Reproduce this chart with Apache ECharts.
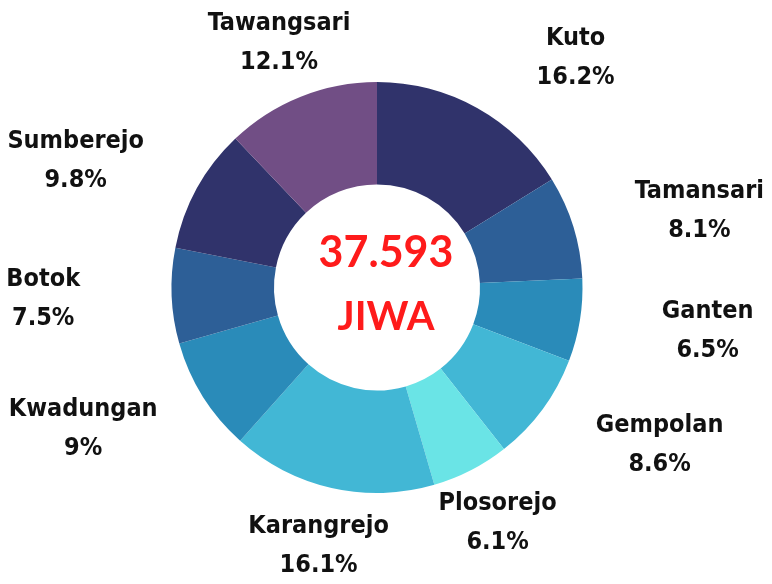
<!DOCTYPE html>
<html>
<head>
<meta charset="utf-8">
<script src="https://cdn.jsdelivr.net/npm/echarts@6/dist/echarts.min.js"></script>
<style>
html,body{margin:0;padding:0;background:#fff;}
#chart{width:772px;height:584px;}
</style>
</head>
<body>
<div id="chart"></div>
<script>
const categories = ['Kuto','Tamansari','Ganten','Gempolan','Plosorejo','Karangrejo','Kwadungan','Botok','Sumberejo','Tawangsari'];
const percents = [16.2, 8.1, 6.5, 8.6, 6.1, 16.1, 9, 7.5, 9.8, 12.1];
const sliceColors = ['#30336b','#2d5f97','#2a8bb9','#42b7d5','#6ae4e6','#42b7d5','#2a8bb9','#2d5f97','#30336b','#714e85'];
const centerLine1 = '37.593';
const centerLine2 = 'JIWA';

const CX = 377, CY = 287.5, R_OUT = 205.5, R_IN = 103;
const LABEL_R = 264, SIDE_SHIFT = 70;
const LABEL_FONT = '"Liberation Sans Narrow","DejaVu Sans Condensed","Roboto Condensed",sans-serif';

const total = percents.reduce((a, b) => a + b, 0);
const midAngles = [];
let acc = 0;
percents.forEach(v => { midAngles.push((acc + v / 2) / total * 2 * Math.PI); acc += v; });

const chart = echarts.init(document.getElementById('chart'), null, {renderer: 'canvas'});
chart.setOption({
  backgroundColor: '#ffffff',
  animation: false,
  series: [{
    type: 'pie',
    center: [CX, CY],
    radius: [R_IN, R_OUT],
    startAngle: 90,
    clockwise: true,
    avoidLabelOverlap: false,
    itemStyle: {borderWidth: 0},
    data: categories.map((c, i) => ({name: c, value: percents[i], itemStyle: {color: sliceColors[i]}})),
    label: {
      show: true,
      position: 'outside',
      formatter: p => '{n|' + p.name + '}\n{p|' + p.value + '%}',
      rich: {
        n: {fontFamily: LABEL_FONT, fontWeight: 'bold', fontSize: 25, color: '#111', align: 'center', lineHeight: 39},
        p: {fontFamily: LABEL_FONT, fontWeight: 'bold', fontSize: 25, color: '#111', align: 'center', lineHeight: 39}
      }
    },
    labelLine: {show: false},
    labelLayout: function (p) {
      const a = midAngles[p.dataIndex];
      const s = Math.sin(a), c = Math.cos(a);
      let x = CX + LABEL_R * s;
      const y = CY - LABEL_R * c;
      if (Math.abs(s) > 0.47) x += Math.sign(s) * SIDE_SHIFT;
      return {x: x, y: y + 1, align: 'center', verticalAlign: 'middle'};
    }
  }],
  graphic: [
    {type: 'text', left: 'center', top: 232, style: {text: centerLine1, fill: '#fe1b1b', font: 'bold 43px Lato, "Noto Sans", sans-serif', textAlign: 'center'}},
    {type: 'text', left: 'center', top: 297, style: {text: centerLine2, fill: '#fe1b1b', font: 'bold 40px Lato, "Noto Sans", sans-serif', textAlign: 'center'}}
  ]
});
</script>
</body>
</html>
